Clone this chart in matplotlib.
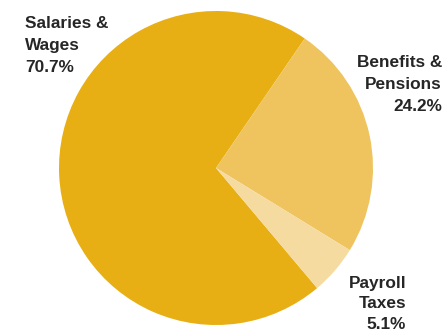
import matplotlib
matplotlib.use("Agg")
import matplotlib.pyplot as plt

# Personnel cost breakdown
categories = ["Salaries &\nWages", "Benefits &\nPensions", "Payroll\nTaxes"]
shares = [70.7, 24.2, 5.1]
colors = ["#E8AF14", "#EFC45E", "#F6DBA1"]

W, H = 444, 333
fig = plt.figure(figsize=(W / 100, H / 100), dpi=100)
ax = fig.add_axes([0, 0, 1, 1])

cx, cy, r = 216, H - 168, 157
ax.pie(shares, colors=colors, center=(cx, cy), radius=r,
       startangle=310.1, counterclock=False,
       wedgeprops=dict(linewidth=0, antialiased=True), frame=True)
ax.set_xlim(0, W)
ax.set_ylim(0, H)
ax.set_aspect("equal")
ax.axis("off")

font = dict(family=["Liberation Sans", "DejaVu Sans"], fontweight="bold",
            fontsize=12.4, color="#262626")

ax.text(25, H - 16, f"{categories[0]}\n{shares[0]:.1f}%", ha="left", va="top",
        multialignment="left", linespacing=1.58, **font)
ax.text(442, H - 55, f"{categories[1]}\n{shares[1]:.1f}%", ha="right", va="top",
        multialignment="right", linespacing=1.58, **font)
ax.text(406, H - 276, f"{categories[2]}\n{shares[2]:.1f}%", ha="right", va="top",
        multialignment="right", linespacing=1.45, **font)

fig.savefig("out.png", dpi=100)
